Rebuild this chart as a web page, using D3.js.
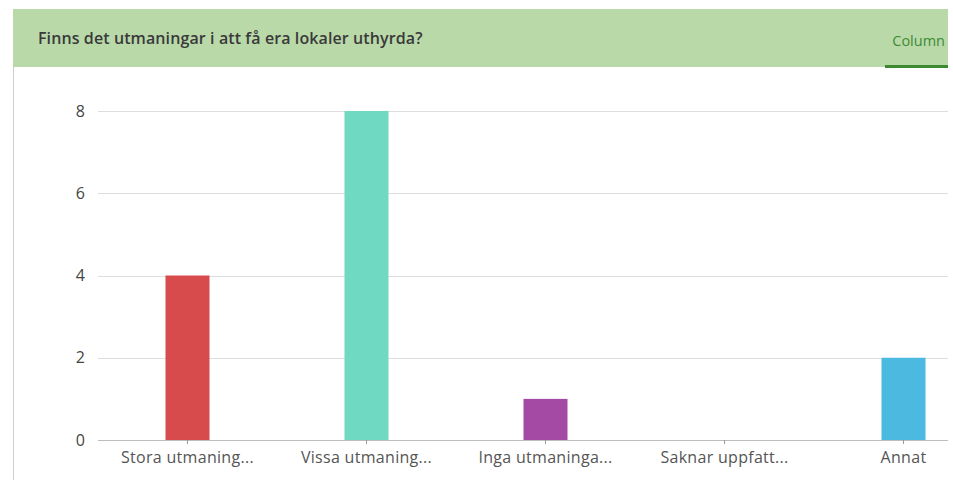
<!DOCTYPE html>
<html>
<head>
<meta charset="utf-8">
<script src="https://cdn.jsdelivr.net/npm/d3@7"></script>
<style>
  html, body { margin: 0; padding: 0; background: #fff; }
  svg { display: block; font-family: "Open Sans", sans-serif; }
</style>
</head>
<body>
<svg id="chart" width="953" height="480"></svg>
<script>
// Survey answers: "Finns det utmaningar i att få era lokaler uthyrda?"
const categories = ["Stora utmaning...", "Vissa utmaning...", "Inga utmaninga...", "Saknar uppfatt...", "Annat"];
const counts = [4, 8, 1, 0, 2];
const barColors = ["#d84b4c", "#6fd9c1", "#a44aa4", "#f2a33a", "#4cb9e0"];
const yTicks = [0, 2, 4, 6, 8];
const title = "Finns det utmaningar i att få era lokaler uthyrda?";
const tabLabel = "Column";

const svg = d3.select("#chart");
const font = "'Open Sans', sans-serif";

// Card: header band and left border
svg.append("rect").attr("x", 13).attr("y", 9).attr("width", 935).attr("height", 58)
  .attr("fill", "#b9d9a9");
svg.append("line").attr("x1", 13.5).attr("x2", 13.5).attr("y1", 67).attr("y2", 480)
  .attr("stroke", "#cfcfcf").attr("stroke-width", 1);

svg.append("text").attr("x", 38).attr("y", 44)
  .attr("font-size", 16).attr("font-weight", 600).attr("letter-spacing", 0.1)
  .attr("fill", "#3a3a3a")
  .text(title);

svg.append("text").attr("x", 945).attr("y", 46).attr("text-anchor", "end")
  .attr("font-size", 14.5).attr("fill", "#3f8a35")
  .text(tabLabel);
svg.append("rect").attr("x", 885).attr("y", 65).attr("width", 63).attr("height", 3)
  .attr("fill", "#3b8a2f");

// Scales
const x = d3.scaleBand().domain(categories).range([98, 993]).paddingInner(0).paddingOuter(0);
const y = d3.scaleLinear().domain([0, 8]).range([440, 111]);
const barW = 44;

// Gridlines
svg.append("g").selectAll("line").data(yTicks.filter(d => d > 0)).join("line")
  .attr("x1", 98).attr("x2", 948)
  .attr("y1", d => Math.round(y(d)) + 0.5).attr("y2", d => Math.round(y(d)) + 0.5)
  .attr("stroke", "#dedede");

// Y axis labels
const yAxis = d3.axisLeft(y).tickValues(yTicks).tickSize(0).tickPadding(0);
const yg = svg.append("g").attr("transform", "translate(85,0)").call(yAxis);
yg.select(".domain").remove();
yg.selectAll("text").attr("font-size", 16).attr("fill", "#444").attr("font-family", font);

// Bars
svg.append("g").selectAll("rect").data(counts).join("rect")
  .attr("x", (d, i) => x(categories[i]) + x.bandwidth() / 2 - barW / 2)
  .attr("y", d => y(d))
  .attr("width", barW)
  .attr("height", d => y(0) - y(d))
  .attr("fill", (d, i) => barColors[i]);

// X axis
const xAxis = d3.axisBottom(x).tickSize(4).tickPadding(8);
const xg = svg.append("g").attr("transform", "translate(0,440)").call(xAxis);
xg.select(".domain").attr("d", "M98,0.5H948").attr("stroke", "#bdbdbd");
xg.selectAll(".tick line").attr("stroke", "#999");
xg.selectAll("text").attr("font-size", 16).attr("letter-spacing", 0.3)
  .attr("fill", "#555").attr("font-family", font);
</script>
</body>
</html>
